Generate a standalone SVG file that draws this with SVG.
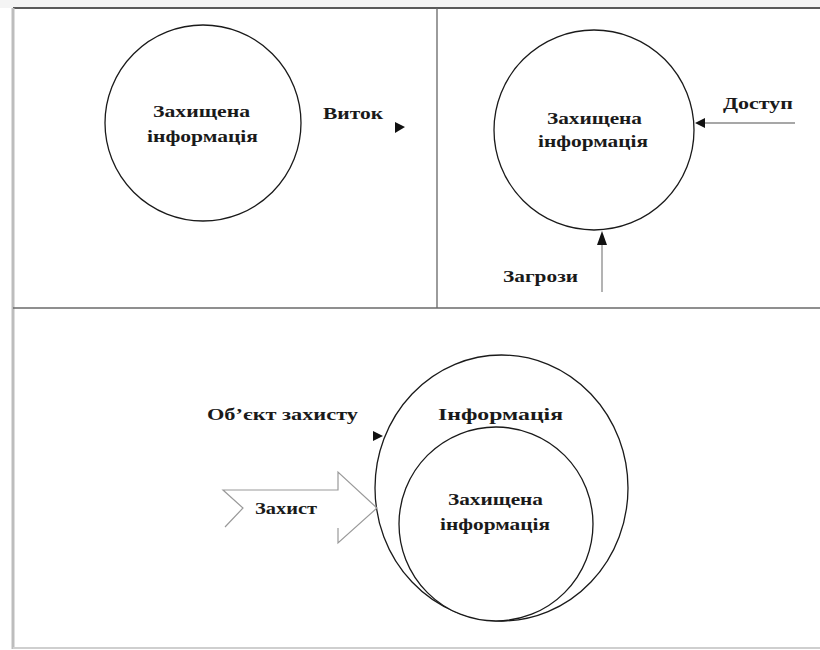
<svg xmlns="http://www.w3.org/2000/svg" width="820" height="650" viewBox="0 0 820 650">
<style>
.circ{fill:#fff;stroke:#1a1a1a;stroke-width:1.3}
.lbl{font-family:"Liberation Serif","DejaVu Serif","Times New Roman",serif;font-weight:bold;font-size:17px;fill:#1a1a1a}
.conn{fill:none;stroke:#8a8a8a;stroke-width:1.3}
.head{fill:#111}
</style>
<rect x="0" y="0" width="820" height="650" fill="#fff"/>
<g id="frame">
<rect x="0" y="0" width="820" height="8" fill="#f4f4f4"/>
<line x1="13" y1="8" x2="820" y2="8" stroke="#5a5a5a" stroke-width="2"/>
<line x1="13" y1="8" x2="13" y2="649" stroke="#bdbdbd" stroke-width="3"/>
<line x1="437" y1="8" x2="437" y2="308" stroke="#666" stroke-width="1.3"/>
<line x1="13" y1="308" x2="820" y2="308" stroke="#6a6a6a" stroke-width="1.5"/>
<line x1="13" y1="648" x2="820" y2="648" stroke="#cfcfcf" stroke-width="2"/>
</g>
<g id="node-leak">
<circle class="circ" cx="203" cy="123" r="98"/>
<text class="lbl" x="153" y="117" textLength="97" lengthAdjust="spacingAndGlyphs">Захищена</text>
<text class="lbl" x="147" y="142" textLength="111" lengthAdjust="spacingAndGlyphs">інформація</text>
</g>
<g id="label-leak">
<text class="lbl" x="323" y="119" textLength="60" lengthAdjust="spacingAndGlyphs">Виток</text>
</g>
<g id="node-access">
<circle class="circ" cx="594" cy="130" r="100"/>
<text class="lbl" x="547" y="124" textLength="95" lengthAdjust="spacingAndGlyphs">Захищена</text>
<text class="lbl" x="538" y="147" textLength="110" lengthAdjust="spacingAndGlyphs">інформація</text>
</g>
<g id="label-access">
<text class="lbl" x="723" y="109" textLength="70" lengthAdjust="spacingAndGlyphs">Доступ</text>
</g>
<g id="label-threats">
<text class="lbl" x="503" y="282" textLength="75" lengthAdjust="spacingAndGlyphs">Загрози</text>
</g>
<g id="node-information">
<ellipse class="circ" cx="501.5" cy="488" rx="126.5" ry="133"/>
<text class="lbl" x="438" y="420" textLength="125" lengthAdjust="spacingAndGlyphs">Інформація</text>
</g>
<g id="node-protected">
<circle class="circ" cx="496" cy="524" r="97"/>
<text class="lbl" x="448" y="505" textLength="95" lengthAdjust="spacingAndGlyphs">Захищена</text>
<text class="lbl" x="440" y="530" textLength="110" lengthAdjust="spacingAndGlyphs">інформація</text>
</g>
<g id="label-object">
<text class="lbl" x="207" y="420" textLength="151" lengthAdjust="spacingAndGlyphs">Об’єкт  захисту</text>
</g>
<g id="node-protection">
<path d="M338,528 L338,543 L377,508 L338,472 L338,490 L223,490 L243,508 L225,527" fill="none" stroke="#9a9a9a" stroke-width="1.2"/>
<text class="lbl" x="255" y="514" textLength="62" lengthAdjust="spacingAndGlyphs">Захист</text>
</g>
<g id="connectors">
<polygon class="head" points="395,122 405,127 395,133"/>
<line class="conn" x1="795" y1="123" x2="704" y2="123"/>
<polygon class="head" points="695,123 705,118 705,128"/>
<line class="conn" x1="602" y1="292" x2="602" y2="244"/>
<polygon class="head" points="602,231 597,245 607,245"/>
<polygon class="head" points="373,431 383,436 373,441"/>
</g>
</svg>
